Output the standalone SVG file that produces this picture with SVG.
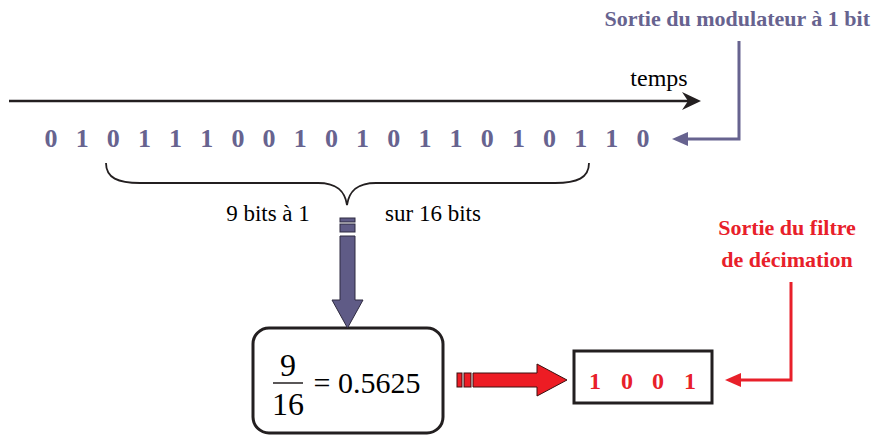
<svg xmlns="http://www.w3.org/2000/svg" width="875" height="436" viewBox="0 0 875 436">
<rect width="875" height="436" fill="#fff"/>
<g id="title-modulateur">
<text font-family="Times New Roman" x="870" y="26" font-size="22" font-weight="bold" fill="#67638f" text-anchor="end">Sortie du modulateur à 1 bit</text>
</g>

<g id="time-axis">
<line x1="9" y1="101" x2="690" y2="101" stroke="#231f20" stroke-width="2.5"/>
<path d="M701,101 L682,92 L688,101 L682,110 Z" fill="#231f20"/>
<text font-family="Times New Roman" x="659" y="86" font-size="24" text-anchor="middle">temps</text>
</g>

<g id="bitstream">
<text font-family="Times New Roman" font-weight="bold" font-size="26" fill="#67638f" text-anchor="middle" y="147">
<tspan x="51">0</tspan><tspan x="82.2">1</tspan><tspan x="113.3">0</tspan><tspan x="144.5">1</tspan><tspan x="175.6">1</tspan><tspan x="206.8">1</tspan><tspan x="237.9">0</tspan><tspan x="269.1">0</tspan><tspan x="300.3">1</tspan><tspan x="331.4">0</tspan><tspan x="362.6">1</tspan><tspan x="393.7">0</tspan><tspan x="424.9">1</tspan><tspan x="456">1</tspan><tspan x="487.2">0</tspan><tspan x="518.4">1</tspan><tspan x="549.5">0</tspan><tspan x="580.7">1</tspan><tspan x="611.8">1</tspan><tspan x="643">0</tspan>
</text>
</g>

<g id="brace">
<path d="M106,163 C106,178 118,183 140,183 L318,183 C338,183 345,192 347,205 C349,192 356,183 376,183 L555,183 C577,183 589,178 589,163" fill="none" stroke="#231f20" stroke-width="1.8"/>
<text font-family="Times New Roman" x="268" y="221" font-size="23" text-anchor="middle">9 bits à 1</text>
<text font-family="Times New Roman" x="433" y="221" font-size="23" text-anchor="middle">sur 16 bits</text>
</g>

<g id="ratio-box">
<rect x="253" y="328" width="190" height="105" rx="16" ry="16" fill="#fff" stroke="#231f20" stroke-width="3"/>
<text font-family="Times New Roman" font-size="32" x="288" y="376" text-anchor="middle">9</text>
<line x1="273" y1="383" x2="303" y2="383" stroke="#231f20" stroke-width="1.5"/>
<text font-family="Times New Roman" font-size="32" x="288" y="415" text-anchor="middle">16</text>
<text font-family="Times New Roman" font-size="30" x="367" y="393" text-anchor="middle">= 0.5625</text>
</g>

<g id="output-box">
<rect x="574" y="351" width="138" height="52" fill="#fff" stroke="#231f20" stroke-width="3"/>
<text font-family="Times New Roman" font-weight="bold" font-size="24" fill="#e8202a" text-anchor="middle" y="389"><tspan x="595">1</tspan><tspan x="627">0</tspan><tspan x="658">0</tspan><tspan x="690">1</tspan></text>
</g>

<g id="title-filtre">
<text font-family="Times New Roman" x="787" y="235" font-size="22" font-weight="bold" fill="#e8202a" text-anchor="middle">Sortie du filtre</text>
<text font-family="Times New Roman" x="787" y="267" font-size="22" font-weight="bold" fill="#e8202a" text-anchor="middle">de décimation</text>
</g>

<g id="connectors">
<polyline points="739,41 739,139 686,139" fill="none" stroke="#67638f" stroke-width="3"/>
<path d="M672,139 L688,132 L688,146 Z" fill="#67638f"/>
<polyline points="791,282 791,380 738,380" fill="none" stroke="#e8202a" stroke-width="3"/>
<path d="M725,380 L741,373 L741,387 Z" fill="#e8202a"/>
<g stroke="#2e2a40" stroke-width="1" fill="#5f5b86">
<rect x="340" y="218" width="15" height="4"/>
<rect x="340" y="224" width="15" height="8"/>
<path d="M340,236 L355,236 L355,300 L363,300 L347.5,328 L332,300 L340,300 Z"/>
</g>
<g stroke="#3a1010" stroke-width="1" fill="#ed1c24">
<rect x="457" y="373" width="5" height="14"/>
<rect x="464" y="373" width="7" height="14"/>
<path d="M473,373 L537,373 L537,364 L567,380 L537,396 L537,387 L473,387 Z"/>
</g>
</g>
</svg>
